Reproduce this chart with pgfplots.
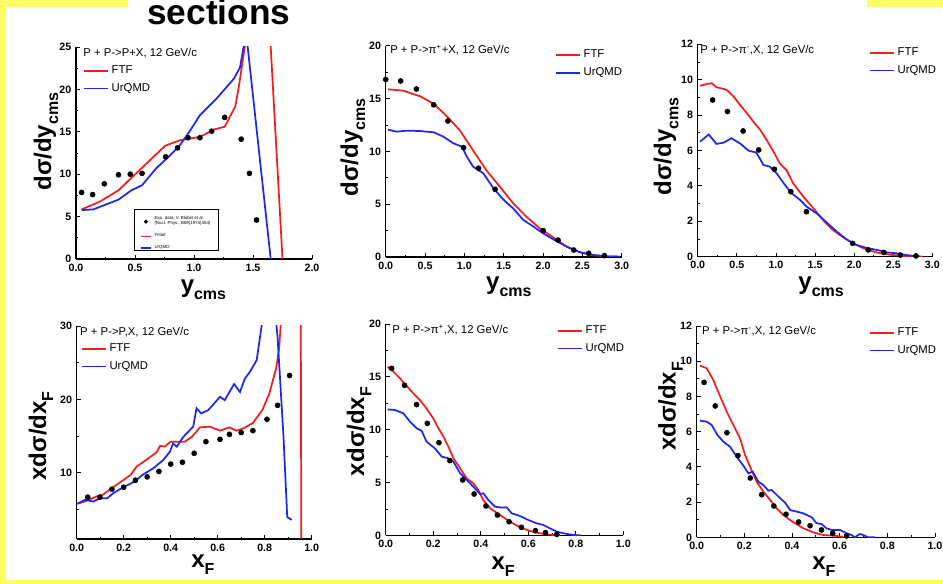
\documentclass[border=0pt]{standalone}
\usepackage{fontspec}
\setmainfont{Liberation Sans}
\usepackage{pgfplots}
\pgfplotsset{compat=1.18}
\definecolor{ftfred}{RGB}{240,30,30}
\definecolor{urqblue}{RGB}{30,40,235}
\definecolor{slideyellow}{RGB}{255,255,100}
\newcommand{\tickfont}{\bfseries\fontsize{8}{9}\selectfont}
\newcommand{\legfont}{\fontsize{8.5}{10}\selectfont}
\newcommand{\labfont}{\bfseries\fontsize{18}{20}\selectfont}
\newcommand{\sub}[1]{\raisebox{-0.3em}{\fontsize{12}{12}\selectfont #1}}
\pgfplotsset{
 panel/.style={
   scale only axis, anchor=south west,
   axis x line*=bottom, axis y line*=left, tick align=inside,
   axis line style={line width=0.8pt},
   major tick length=3pt, minor tick length=1.6pt,
   every tick/.style={black, line width=0.6pt},
   minor tick num=1,
   ticklabel style={font=\tickfont},
   /pgf/number format/assume math mode=true,
   xticklabel style={/pgf/number format/fixed, /pgf/number format/fixed zerofill, /pgf/number format/precision=1},
   legend style={draw=none, fill=none, font=\legfont, row sep=2pt, inner sep=0pt, cells={anchor=west}},
   label style={font=\labfont},
 },
 ftf/.style={color=ftfred, line width=1.3pt, mark=none},
 urq/.style={color=urqblue, line width=1.3pt, mark=none},
 dat/.style={only marks, mark=*, mark size=1.9pt, black},
 ftfleg/.style={legend image code/.code={\draw[color=ftfred, line width=1.3pt] (0pt,0pt) -- (18pt,0pt);}},
 urqleg/.style={legend image code/.code={\draw[color=urqblue, line width=1.3pt] (0pt,0pt) -- (18pt,0pt);}},
}
\begin{document}
\begin{tikzpicture}
\fill[white] (0pt,0pt) rectangle (707.25pt,-438pt);
\fill[slideyellow] (0pt,0pt) rectangle (4.5pt,-438pt);
\fill[slideyellow] (0pt,0pt) rectangle (96pt,-5pt);
\fill[slideyellow] (650.25pt,0pt) rectangle (707.25pt,-5pt);
\fill[slideyellow] (0pt,-435pt) rectangle (707.25pt,-438pt);
\node[anchor=base west, font=\bfseries\fontsize{26.5}{30}\selectfont, inner sep=0pt] at (110.25pt,-18.75pt) {sections};

% ---------- Panel 1 ----------
\begin{axis}[panel, at={(57pt,-194.25pt)}, width=177pt, height=159pt,
  xmin=0, xmax=2, ymin=0, ymax=25, xtick={0,0.5,...,2}, ytick={0,5,...,25},
  xlabel={y\sub{cms}}, ylabel={dσ/dy\sub{cms}},
  xlabel style={at={(axis description cs:0.54,-0.145)}, anchor=center},
  ylabel style={at={(axis description cs:-0.127,0.554)}, anchor=center},
  legend style={at={(axis description cs:0.03,0.925)}, anchor=north west}]
\addplot[dat, forget plot] coordinates {(0.048,7.85)(0.141,7.6)(0.24,8.87)(0.36,9.93)(0.46,10.0)(0.56,10.1)(0.76,12.05)(0.86,13.1)(0.95,14.3)(1.05,14.3)(1.15,15.07)(1.26,16.7)(1.40,14.13)(1.47,10.1)(1.53,4.6)};
\addplot[ftf, forget plot] coordinates {(0.048,5.85)(0.20,6.75)(0.36,8.1)(0.54,10.5)(0.755,13.35)(0.88,14.0)(1.05,14.4)(1.17,15.27)(1.26,15.6)(1.35,18.0)(1.38,20.3)(1.43,25)(1.59,40)(1.75,0)};
\addplot[urq, forget plot] coordinates {(0.048,5.77)(0.147,5.85)(0.36,7.0)(0.47,8.1)(0.56,8.7)(0.68,10.7)(0.77,11.85)(0.88,13.4)(0.97,15.2)(1.05,16.95)(1.19,18.9)(1.34,21.3)(1.39,22.6)(1.42,25)(1.441,26.8)(1.65,0)};
\addlegendimage{ftfleg}\addlegendentry{FTF}
\addlegendimage{urqleg}\addlegendentry{UrQMD}
\node[anchor=west, font=\legfont, inner sep=0pt] at (axis description cs:0.03,0.972) {P + P->P+X, 12 GeV/c};
\draw[black, line width=0.4pt] (axis cs:0.494,5.86) rectangle (axis cs:1.206,0.98);
\end{axis}
\begin{axis}[panel, hide axis, at={(57pt,-194.25pt)}, width=177pt, height=159pt,
  xmin=0, xmax=2, ymin=0, ymax=25,
  legend style={at={(axis description cs:0.27,0.215)}, anchor=north west, font=\fontsize{3.3}{4}\selectfont, row sep=1pt, cells={align=left}}]
\addlegendimage{legend image code/.code={\fill[black] (4pt,0pt) circle (1.3pt);}}
\addlegendentry{Exp. data, V. Blobel et al.\\(Nucl. Phys., B69(1974)454)}
\addlegendimage{legend image code/.code={\draw[color=ftfred, line width=0.9pt] (0pt,0pt) -- (8pt,0pt);}}
\addlegendentry{Fritiof}
\addlegendimage{legend image code/.code={\draw[color=urqblue, line width=0.9pt] (0pt,0pt) -- (8pt,0pt);}}
\addlegendentry{UrQMD}
\end{axis}

% ---------- Panel 2 ----------
\begin{axis}[panel, at={(289.3pt,-192.75pt)}, width=177pt, height=158.5pt,
  xmin=0, xmax=3, ymin=0, ymax=20, xtick={0,0.5,...,3}, ytick={0,5,...,20},
  xlabel={y\sub{cms}}, ylabel={dσ/dy\sub{cms}},
  xlabel style={at={(axis description cs:0.522,-0.14)}, anchor=center},
  ylabel style={at={(axis description cs:-0.139,0.518)}, anchor=center},
  legend style={at={(axis description cs:0.717,0.993)}, anchor=north west}]
\addplot[dat, forget plot] coordinates {(0.0,16.8)(0.19,16.66)(0.39,15.9)(0.61,14.4)(0.79,12.87)(0.99,10.35)(1.18,8.4)(1.39,6.4)(2.0,2.5)(2.19,1.6)(2.39,0.66)(2.58,0.35)(2.78,0.13)};
\addplot[ftf, forget plot] coordinates {(0.03,15.87)(0.22,15.74)(0.44,15.2)(0.61,14.5)(0.78,13.3)(0.94,12.0)(1.11,10.1)(1.28,8.2)(1.45,6.66)(1.62,5.08)(1.79,3.8)(1.96,2.7)(2.13,1.86)(2.30,0.98)(2.47,0.44)(2.64,0.16)(2.81,0.06)(2.98,0.03)};
\addplot[urq, forget plot] coordinates {(0.03,12.05)(0.14,11.86)(0.27,11.96)(0.44,11.92)(0.61,11.8)(0.73,11.4)(0.86,10.76)(0.97,10.44)(1.03,9.5)(1.11,8.55)(1.24,7.92)(1.37,6.5)(1.50,5.4)(1.62,4.6)(1.75,3.5)(1.88,2.87)(2.0,2.24)(2.13,1.67)(2.30,0.98)(2.47,0.44)(2.64,0.19)(2.81,0.06)(2.98,0.03)};
\addlegendimage{ftfleg}\addlegendentry{FTF}
\addlegendimage{urqleg}\addlegendentry{UrQMD}
\node[anchor=west, font=\legfont, inner sep=0pt] at (axis description cs:0.018,0.98) {P + P->π\textsuperscript{+}+X, 12 GeV/c};
\end{axis}

% ---------- Panel 3 ----------
\begin{axis}[panel, at={(523.3pt,-192.5pt)}, width=176pt, height=159.3pt,
  xmin=0, xmax=3, ymin=0, ymax=12, xtick={0,0.5,...,3}, ytick={0,2,...,12},
  xlabel={y\sub{cms}}, ylabel={dσ/dy\sub{cms}},
  xlabel style={at={(axis description cs:0.526,-0.14)}, anchor=center},
  ylabel style={at={(axis description cs:-0.135,0.52)}, anchor=center},
  legend style={at={(axis description cs:0.73,0.997)}, anchor=north west}]
\addplot[dat, forget plot] coordinates {(0.19,8.85)(0.38,8.2)(0.58,7.1)(0.78,6.03)(0.98,4.94)(1.19,3.67)(1.39,2.54)(1.98,0.75)(2.18,0.38)(2.38,0.24)(2.59,0.09)(2.79,0.04)};
\addplot[ftf, forget plot] coordinates {(0.03,9.65)(0.12,9.76)(0.18,9.8)(0.24,9.57)(0.31,9.5)(0.37,9.42)(0.46,9.04)(0.54,8.57)(0.63,8.1)(0.71,7.63)(0.80,7.16)(0.88,6.6)(0.97,5.93)(1.05,5.27)(1.14,4.86)(1.22,4.14)(1.35,3.39)(1.48,2.73)(1.61,2.03)(1.73,1.5)(1.86,1.09)(1.99,0.75)(2.12,0.47)(2.29,0.23)(2.46,0.11)(2.63,0.04)(2.88,0.0)};
\addplot[urq, forget plot] coordinates {(0.03,6.5)(0.14,6.9)(0.24,6.37)(0.33,6.44)(0.43,6.69)(0.54,6.4)(0.65,5.99)(0.75,5.88)(0.84,5.18)(0.92,5.09)(1.01,4.7)(1.10,4.14)(1.20,3.58)(1.31,3.2)(1.39,2.83)(1.52,2.45)(1.65,1.92)(1.78,1.41)(1.90,0.98)(2.03,0.66)(2.18,0.47)(2.29,0.38)(2.42,0.24)(2.54,0.19)(2.67,0.09)(2.84,0.0)};
\addlegendimage{ftfleg}\addlegendentry{FTF}
\addlegendimage{urqleg}\addlegendentry{UrQMD}
\node[anchor=west, font=\legfont, inner sep=0pt] at (axis description cs:0.01,0.973) {P + P->π\textsuperscript{-},X, 12 GeV/c};
\end{axis}

% ---------- Panel 4 ----------
\begin{axis}[panel, at={(57.5pt,-404.25pt)}, width=176.25pt, height=159.75pt,
  xmin=0, xmax=1, ymin=1, ymax=30, xtick={0,0.2,...,1}, ytick={10,20,30}, minor ytick={5,15,25},
  xlabel={x\sub{F}}, ylabel={xdσ/dx\sub{F}},
  xlabel style={at={(axis description cs:0.537,-0.122)}, anchor=center},
  ylabel style={at={(axis description cs:-0.152,0.484)}, anchor=center},
  legend style={at={(axis description cs:0.018,0.93)}, anchor=north west}]
\addplot[dat, forget plot] coordinates {(0.047,6.7)(0.099,6.7)(0.15,7.78)(0.20,8.05)(0.25,9.0)(0.30,9.46)(0.35,10.2)(0.40,11.2)(0.45,11.45)(0.50,12.67)(0.55,14.25)(0.61,14.57)(0.65,15.25)(0.70,15.5)(0.75,15.75)(0.81,17.3)(0.855,19.2)(0.906,23.26)};
\addplot[ftf, forget plot] coordinates {(0.003,5.8)(0.043,6.2)(0.085,6.8)(0.11,7.0)(0.14,7.7)(0.18,8.6)(0.23,9.73)(0.255,10.86)(0.30,11.86)(0.34,12.8)(0.355,13.67)(0.376,13.6)(0.40,14.25)(0.44,14.25)(0.46,14.25)(0.49,14.9)(0.525,16.2)(0.567,16.3)(0.61,15.75)(0.65,16.2)(0.68,15.75)(0.71,16.06)(0.75,16.8)(0.79,18.55)(0.82,20.8)(0.85,24.4)(0.862,27.1)(0.868,30)(0.953,40)(0.956,0)};
\addplot[urq, forget plot] coordinates {(0.003,5.8)(0.035,6.33)(0.071,6.1)(0.099,6.56)(0.13,6.56)(0.156,7.24)(0.18,7.7)(0.21,8.24)(0.234,8.6)(0.255,9.05)(0.28,9.73)(0.326,10.63)(0.369,11.76)(0.397,12.9)(0.41,14.0)(0.426,13.57)(0.454,14.9)(0.496,16.3)(0.51,18.8)(0.53,18.1)(0.56,18.55)(0.61,20.36)(0.63,19.9)(0.67,22.1)(0.695,21.0)(0.716,22.85)(0.737,23.75)(0.766,25.34)(0.787,30)(0.82,40)(0.855,28.5)(0.88,15.0)(0.896,4.0)(0.915,3.6)};
\addlegendimage{ftfleg}\addlegendentry{FTF}
\addlegendimage{urqleg}\addlegendentry{UrQMD}
\node[anchor=west, font=\legfont, inner sep=0pt] at (axis description cs:0.014,0.972) {P + P->P,X, 12 GeV/c};
\end{axis}

% ---------- Panel 5 ----------
\begin{axis}[panel, at={(289.3pt,-401.5pt)}, width=178.2pt, height=158.5pt,
  xmin=0, xmax=1, ymin=0, ymax=20, xtick={0,0.2,...,1}, ytick={0,5,...,20},
  xlabel={x\sub{F}}, ylabel={xdσ/dx\sub{F}},
  xlabel style={at={(axis description cs:0.494,-0.15)}, anchor=center},
  ylabel style={at={(axis description cs:-0.112,0.491)}, anchor=center},
  legend style={at={(axis description cs:0.721,1.005)}, anchor=north west}]
\addplot[dat, forget plot] coordinates {(0.025,15.8)(0.079,14.2)(0.13,12.37)(0.175,10.6)(0.224,8.77)(0.27,7.07)(0.324,5.24)(0.372,3.91)(0.422,2.78)(0.47,1.92)(0.519,1.29)(0.571,0.76)(0.63,0.44)(0.672,0.25)(0.72,0.09)};
\addplot[ftf, forget plot] coordinates {(0.008,15.96)(0.032,15.5)(0.06,14.86)(0.088,14.13)(0.116,13.44)(0.144,12.8)(0.172,12.0)(0.2,11.07)(0.222,10.13)(0.243,9.34)(0.264,8.39)(0.285,7.29)(0.313,6.34)(0.341,5.39)(0.369,4.92)(0.39,4.29)(0.41,3.34)(0.439,2.56)(0.481,1.92)(0.523,1.29)(0.565,0.76)(0.607,0.41)(0.649,0.19)(0.705,0.03)(0.733,0)};
\addplot[urq, forget plot] coordinates {(0.008,11.92)(0.039,11.86)(0.074,11.55)(0.102,10.76)(0.13,10.13)(0.151,9.9)(0.172,8.86)(0.207,8.23)(0.236,7.44)(0.264,7.29)(0.285,6.97)(0.313,5.87)(0.341,5.24)(0.369,4.6)(0.397,3.91)(0.411,3.97)(0.432,3.34)(0.46,2.71)(0.488,2.62)(0.509,2.65)(0.53,2.08)(0.565,1.83)(0.6,1.45)(0.635,1.14)(0.663,0.98)(0.691,0.66)(0.72,0.35)(0.748,0.19)(0.79,0.03)(0.82,0)};
\addlegendimage{ftfleg}\addlegendentry{FTF}
\addlegendimage{urqleg}\addlegendentry{UrQMD}
\node[anchor=west, font=\legfont, inner sep=0pt] at (axis description cs:0.027,0.972) {P + P->π\textsuperscript{+},X, 12 GeV/c};
\end{axis}

% ---------- Panel 6 ----------
\begin{axis}[panel, at={(522.5pt,-403pt)}, width=178.7pt, height=158.5pt,
  xmin=0, xmax=1, ymin=0, ymax=12, xtick={0,0.2,...,1}, ytick={0,2,...,12},
  xlabel={x\sub{F}}, ylabel={xdσ/dx\sub{F}},
  xlabel style={at={(axis description cs:0.534,-0.14)}, anchor=center},
  ylabel style={at={(axis description cs:-0.11,0.619)}, anchor=center},
  legend style={at={(axis description cs:0.723,1.005)}, anchor=north west}]
\addplot[dat, forget plot] coordinates {(0.031,8.8)(0.078,7.46)(0.127,5.94)(0.173,4.64)(0.225,3.37)(0.273,2.42)(0.324,1.78)(0.375,1.31)(0.428,0.87)(0.476,0.66)(0.524,0.42)(0.571,0.23)(0.629,0.08)};
\addplot[ftf, forget plot] coordinates {(0.014,9.75)(0.042,9.6)(0.07,8.93)(0.084,8.46)(0.105,7.8)(0.126,7.14)(0.154,6.38)(0.182,5.62)(0.203,4.68)(0.224,4.01)(0.252,3.16)(0.28,2.59)(0.308,2.12)(0.336,1.65)(0.364,1.27)(0.392,0.98)(0.42,0.74)(0.448,0.51)(0.49,0.28)(0.531,0.13)(0.587,0.08)(0.615,0.02)};
\addplot[urq, forget plot] coordinates {(0.014,6.62)(0.042,6.57)(0.063,6.38)(0.087,5.81)(0.112,5.43)(0.14,5.15)(0.168,4.58)(0.196,4.07)(0.217,3.63)(0.235,3.73)(0.259,3.16)(0.28,2.97)(0.301,2.65)(0.315,2.69)(0.343,2.31)(0.371,1.97)(0.392,1.55)(0.42,1.46)(0.448,1.36)(0.483,1.14)(0.503,0.8)(0.524,0.76)(0.545,0.51)(0.566,0.42)(0.601,0.42)(0.629,0.23)(0.65,0.13)(0.664,0.0)(0.685,0.19)(0.699,0.13)(0.72,0.0)(0.748,0)};
\addlegendimage{ftfleg}\addlegendentry{FTF}
\addlegendimage{urqleg}\addlegendentry{UrQMD}
\node[anchor=west, font=\legfont, inner sep=0pt] at (axis description cs:0.022,0.976) {P + P->π\textsuperscript{-},X, 12 GeV/c};
\end{axis}

\pgfresetboundingbox
\path[use as bounding box] (0pt,0pt) rectangle (707.25pt,-438pt);
\end{tikzpicture}
\end{document}
